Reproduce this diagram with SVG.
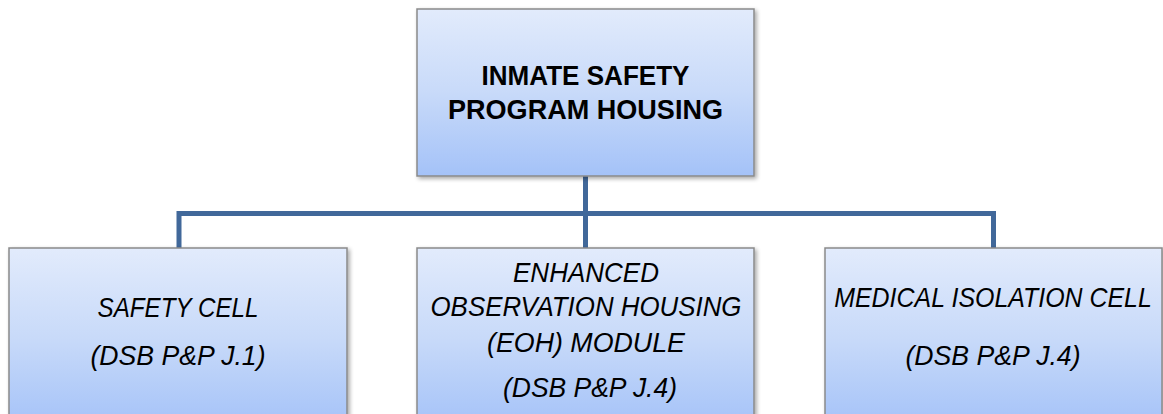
<svg xmlns="http://www.w3.org/2000/svg" width="1163" height="414" viewBox="0 0 1163 414">
<defs>
<linearGradient id="g" x1="0" y1="0" x2="0" y2="1">
<stop offset="0" stop-color="#e2ebfc"/>
<stop offset="0.5" stop-color="#c8daf9"/>
<stop offset="1" stop-color="#a4c2f8"/>
</linearGradient>
<filter id="sh" x="-5%" y="-5%" width="115%" height="115%">
<feGaussianBlur in="SourceAlpha" stdDeviation="2"/>
<feOffset dx="2" dy="2"/>
<feComponentTransfer><feFuncA type="linear" slope="0.35"/></feComponentTransfer>
<feMerge><feMergeNode/><feMergeNode in="SourceGraphic"/></feMerge>
</filter>
</defs>
<style>
.box{fill:url(#g);stroke:#8a8a8a;stroke-width:1.5;filter:url(#sh)}
.conn{fill:none;stroke:#41689a;stroke-width:5;stroke-linejoin:miter}
.t{font-family:"Liberation Sans",Arial,sans-serif;fill:#000;text-anchor:middle}
.b{font-weight:bold;font-size:28px}
.i{font-style:italic;font-size:28px}
</style>
<g id="connectors">
<path class="conn" d="M585.5 176 V213.5"/>
<path class="conn" d="M179 248 V213.5 H993.5 V248"/>
<path class="conn" d="M585.5 213.5 V248"/>
</g>
<g id="node-top">
<rect class="box" x="417" y="9" width="337" height="167"/>
<text class="t b" x="585.5" y="85" textLength="208" lengthAdjust="spacingAndGlyphs">INMATE SAFETY</text>
<text class="t b" x="585.5" y="119" textLength="275" lengthAdjust="spacingAndGlyphs">PROGRAM HOUSING</text>
</g>
<g id="node-safety-cell">
<rect class="box" x="9" y="248" width="338" height="180"/>
<text class="t i" x="178" y="317" textLength="161" lengthAdjust="spacingAndGlyphs">SAFETY CELL</text>
<text class="t i" x="178" y="365" textLength="175" lengthAdjust="spacingAndGlyphs">(DSB P&amp;P J.1)</text>
</g>
<g id="node-eoh">
<rect class="box" x="417" y="248" width="337" height="180"/>
<text class="t i" x="586" y="282" textLength="146" lengthAdjust="spacingAndGlyphs">ENHANCED</text>
<text class="t i" x="586" y="316" textLength="311" lengthAdjust="spacingAndGlyphs">OBSERVATION HOUSING</text>
<text class="t i" x="586" y="352" textLength="198" lengthAdjust="spacingAndGlyphs">(EOH) MODULE</text>
<text class="t i" x="590" y="397" textLength="174" lengthAdjust="spacingAndGlyphs">(DSB P&amp;P J.4)</text>
</g>
<g id="node-medical">
<rect class="box" x="825" y="248" width="337" height="180"/>
<text class="t i" transform="translate(993 307) scale(0.89 1)" x="0" y="0">MEDICAL ISOLATION CELL</text>
<text class="t i" x="993" y="365" textLength="175" lengthAdjust="spacingAndGlyphs">(DSB P&amp;P J.4)</text>
</g>
</svg>
